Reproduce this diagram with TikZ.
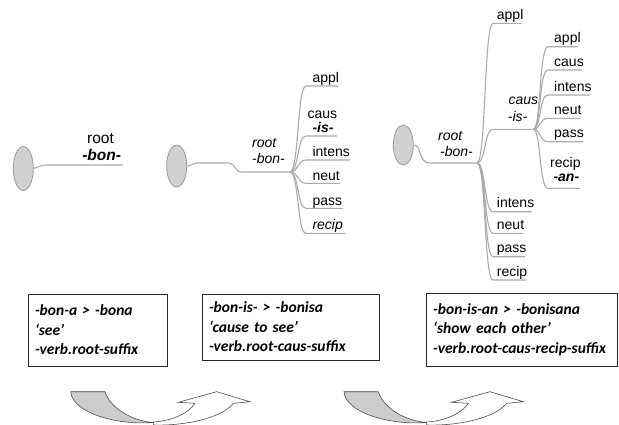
\documentclass[tikz,border=0pt]{standalone}
\usepackage{fontspec}
\setmainfont{Liberation Sans}
\newfontfamily\boxfont{Carlito}
\usetikzlibrary{shapes.geometric}
\begin{document}
\begin{tikzpicture}[x=1pt,y=-1pt,
  tl/.style={draw=black!33, line width=1.1pt},
  blob/.style={ellipse, draw=black!40, fill=black!18, line width=0.8pt, minimum width=20pt, inner sep=0pt},
  lab/.style={anchor=base west, inner sep=0pt, font=\fontsize{14}{16}\selectfont},
  labi/.style={lab, font=\itshape\fontsize{14}{16}\selectfont},
  labb/.style={lab, font=\bfseries\itshape\fontsize{14}{16}\selectfont},
  txtbox/.style={draw=black!85, line width=0.8pt, align=left, inner xsep=7pt, inner ysep=0pt, font=\boxfont\bfseries\itshape\fontsize{15.5}{19.5}\selectfont},
  arrg/.style={draw=black!70, fill=black!20, line width=0.6pt},
  arrw/.style={draw=black!70, fill=white, line width=0.6pt}]
\useasboundingbox (0,0) rectangle (619,424);
\clip (0,0) rectangle (619,424);

% ---------- panel 1 ----------
\node[blob, minimum height=44pt] (e1) at (23.3,168.5) {};
\coordinate (p1a) at (46,165);
\coordinate (p1b) at (123,165);
\draw[tl] (e1.east) .. controls (38,168) and (40,165) .. (p1a) -- (p1b);
\node[anchor=base, inner sep=0pt, font=\fontsize{15.5}{18}\selectfont] (r1) at (100.5,143.3) {root};
\node[anchor=base, inner sep=0pt, font=\bfseries\itshape\fontsize{15.5}{18}\selectfont] (b1) at (101.7,160) {-bon-};

% ---------- panel 2 ----------
\node[blob, minimum height=42pt] (e2) at (176.7,166) {};
\coordinate (B2) at (290,172);
\draw[tl] (e2.east) .. controls (192,166) and (192,163) .. (198,163) -- (228,163)
  .. controls (236,163) and (234,172) .. (242,172) -- (B2);
\foreach \i/\y/\e in {1/86/338, 2/136/337, 3/160/350, 4/183.3/340, 5/208.3/343, 6/233.3/345}{
  \coordinate (q2\i) at (306,\y);
  \coordinate (z2\i) at (\e,\y);
  \draw[tl] (B2) .. controls (299,172) and (297,\y) .. (q2\i) -- (z2\i);
}
\node[labi] (r2) at (252,147.3) {root};
\node[labi] (b2) at (252,163.3) {-bon-};
\node[lab] (a2) at (312.3,82.7) {appl};
\node[lab] (c2) at (307.3,118.5) {caus};
\node[labb] (i2) at (312.3,132) {-is-};
\node[lab] (n2) at (312.3,156.7) {intens};
\node[lab] (u2) at (312.3,180.7) {neut};
\node[lab] (p2) at (312.3,205.7) {pass};
\node[labi] (x2) at (312.3,229.3) {recip};

% ---------- panel 3 ----------
\node[blob, minimum height=40pt] (e3) at (403.3,145) {};
\coordinate (B3) at (477,163);
\coordinate (S3) at (533.3,129.3);
\draw[tl] (e3.east) .. controls (422,145) and (418,163) .. (430,163) -- (B3);
\foreach \i/\y/\e in {1/23.3/521.7, 3/211.7/531.7, 4/233.3/523.3, 5/256.7/525, 6/280/526.7}{
  \coordinate (q3\i) at (493,\y);
  \coordinate (z3\i) at (\e,\y);
  \draw[tl] (B3) .. controls (486,163) and (484,\y) .. (q3\i) -- (z3\i);
}
\coordinate (q32) at (493,129.3);
\draw[tl] (B3) .. controls (486,163) and (484,129.3) .. (q32) -- (S3);
\foreach \i/\y/\e in {1/46.7/578, 2/70/581.7, 3/95/590, 4/118.3/580, 5/141.7/583.3, 6/188.3/580}{
  \coordinate (s3\i) at (548,\y);
  \coordinate (t3\i) at (\e,\y);
  \draw[tl] (S3) .. controls (541,129.3) and (539,\y) .. (s3\i) -- (t3\i);
}
\node[labi] (r3) at (438,140) {root};
\node[labi] (b3) at (440,156.7) {-bon-};
\node[lab] (a3) at (496.7,19.5) {appl};
\node[labi] (c3) at (508.3,104.3) {caus};
\node[labi] (i3) at (507.7,121.7) {-is-};
\node[lab] (n3) at (496.7,207.5) {intens};
\node[lab] (u3) at (496.7,229.3) {neut};
\node[lab] (p3) at (496.7,252.7) {pass};
\node[lab] (x3) at (496.7,276) {recip};
\node[lab] (sa3) at (554,42.7) {appl};
\node[lab] (sc3) at (554,66) {caus};
\node[lab] (sn3) at (554,91) {intens};
\node[lab] (su3) at (554,114.3) {neut};
\node[lab] (sp3) at (554,137.7) {pass};
\node[lab] (sx3) at (550,167) {recip};
\node[labb] (sb3) at (553.3,181.5) {-an-};

% ---------- boxes ----------
\node[txtbox, minimum width=139pt, minimum height=72pt, text width=125pt] (t1) at (97.5,330)
  {-bon-a > -bona\\‘see’\\-verb.root-suffix};
\node[txtbox, minimum width=177pt, minimum height=66pt, text width=163pt] (t2) at (290.5,327)
  {-bon-is- > -bonisa\\‘cause to see’\\-verb.root-caus-suffix};
\node[txtbox, minimum width=191pt, minimum height=73pt, text width=177pt] (t3) at (521.7,329.5)
  {-bon-is-an > -bonisana\\‘show each other’\\-verb.root-caus-recip-suffix};

% ---------- curved arrows ----------
\foreach \s in {0,273.3}{
\begin{scope}[xshift=\s pt]
  \draw[arrw] (153.3,422) .. controls (172,421) and (189,413) .. (195,403.3) -- (178.3,402.3)
    -- (216.7,391.7) -- (250,401.7) -- (233.3,403.3)
    .. controls (222,418) and (185,426) .. (153.3,425) -- cycle;
  \draw[arrg] (70.7,391.7) -- (105,391.7) .. controls (110,408) and (132,421) .. (153.3,422.5)
    .. controls (115,425.5) and (72,412) .. (70.7,391.7) -- cycle;
\end{scope}
}
\end{tikzpicture}
\end{document}
